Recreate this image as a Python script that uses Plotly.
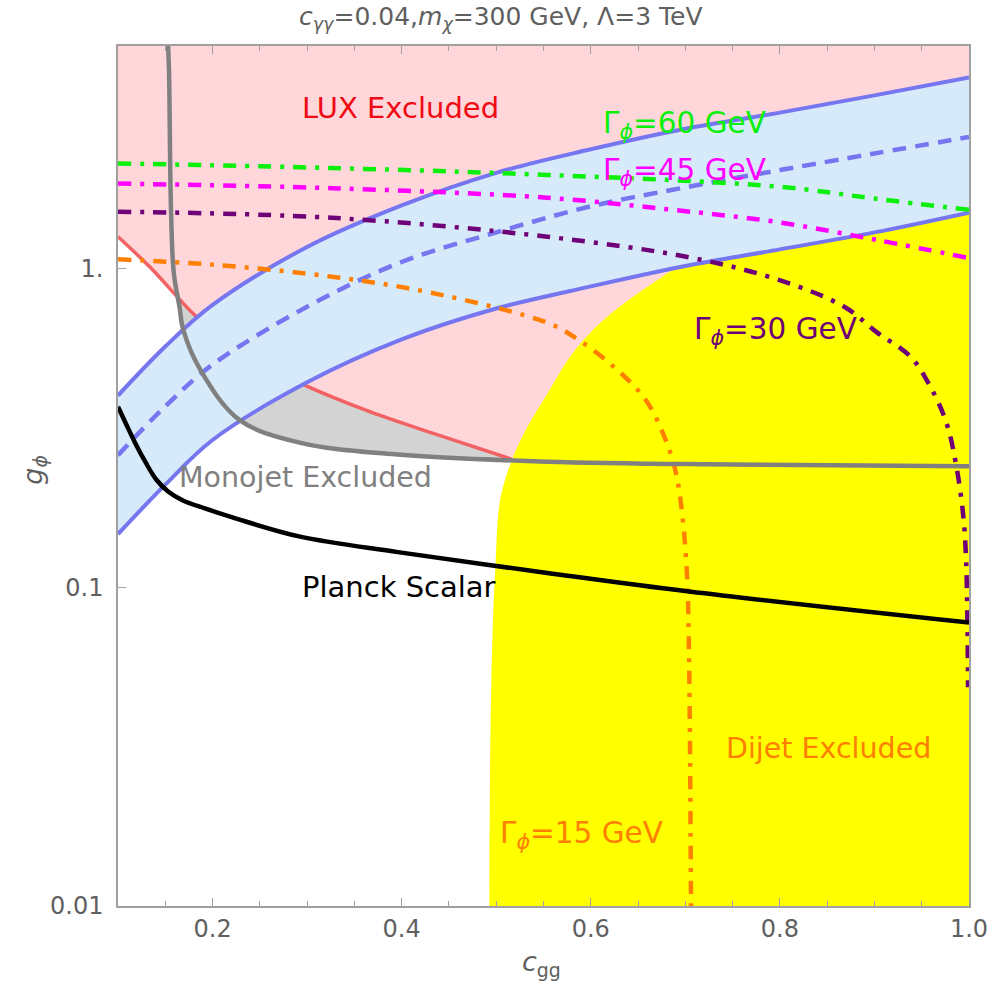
import plotly.graph_objects as go

# ---------------------------------------------------------------- data
# axis extent
X_RANGE = [0.1, 1.0]
Y_RANGE = [0.01, 5.0]

# diphoton-excess band (solid edges) and its central value (dashed)
band_x = [0.1, 0.15, 0.2, 0.3, 0.4, 0.5, 0.6, 0.7, 0.8, 0.9, 1.0]
band_upper = [0.40, 0.57, 0.77, 1.17, 1.58, 2.00, 2.37, 2.75, 3.09, 3.50, 3.98]
band_lower = [0.147, 0.21, 0.29, 0.44, 0.60, 0.75, 0.88, 1.02, 1.15, 1.30, 1.50]
band_center = [0.26, 0.37, 0.50, 0.76, 1.05, 1.30, 1.57, 1.80, 2.04, 2.30, 2.59]

# LUX direct-detection bound
lux_x = [0.1, 0.134, 0.178, 0.2, 0.25, 0.291, 0.362, 0.431, 0.517]
lux_y = [1.26, 1.01, 0.73, 0.64, 0.51, 0.44, 0.36, 0.306, 0.252]

# monojet bound
mono_x = [0.153, 0.154, 0.156, 0.159, 0.165, 0.169, 0.187, 0.228, 0.291, 0.396, 0.554, 0.75, 1.0]
mono_y = [5.0, 4.12, 1.56, 0.97, 0.76, 0.644, 0.482, 0.336, 0.285, 0.261, 0.248, 0.243, 0.240]

# dijet bound (left edge of the excluded area, up to the band)
dijet_x = [0.4927, 0.4937, 0.4959, 0.499, 0.5043, 0.5168, 0.5326, 0.5536, 0.5798, 0.6081, 0.6375, 0.6647, 0.6899]
dijet_y = [0.01, 0.031, 0.0687, 0.114, 0.189, 0.252, 0.3175, 0.403, 0.538, 0.668, 0.788, 0.897, 1.007]

# Planck relic-abundance line (scalar)
planck_x = [0.1, 0.1089, 0.1184, 0.1288, 0.1404, 0.153, 0.1687, 0.1918, 0.2211, 0.2914, 0.396, 0.554, 0.704, 1.0]
planck_y = [0.369, 0.324, 0.283, 0.248, 0.218, 0.200, 0.1874, 0.1769, 0.1658, 0.1445, 0.129, 0.111, 0.097, 0.0775]

# total-width contours
w60_x = [0.1, 0.326, 0.554, 0.798, 0.9, 1.0]
w60_y = [2.14, 2.07, 1.97, 1.81, 1.66, 1.53]

w45_x = [0.1, 0.326, 0.554, 0.687, 0.798, 0.903, 1.0]
w45_y = [1.85, 1.79, 1.67, 1.53, 1.40, 1.23, 1.08]

w30_x = [0.1, 0.326, 0.554, 0.708, 0.798, 0.868, 0.903, 0.938, 0.959, 0.976, 0.986, 0.994, 0.997, 0.999]
w30_y = [1.51, 1.445, 1.26, 1.08, 0.924, 0.76, 0.63, 0.53, 0.427, 0.329, 0.246, 0.167, 0.12, 0.0486]

w15_x = [0.1, 0.2, 0.326, 0.431, 0.554, 0.582, 0.624, 0.658, 0.679, 0.690, 0.697, 0.702, 0.704, 0.706]
w15_y = [1.07, 1.03, 0.944, 0.841, 0.677, 0.612, 0.493, 0.388, 0.291, 0.229, 0.167, 0.106, 0.058, 0.01]

# ---------------------------------------------------------------- style
FONT = "DejaVu Sans, Verdana, sans-serif"
BLUE = "rgb(118,118,240)"
C_PINK = "rgb(255,214,217)"
C_BAND = "rgb(214,234,250)"
C_GRAYFILL = "rgb(211,211,211)"
C_YELLOW = "rgb(255,255,0)"
C_GREEN = "rgb(10,240,10)"
C_MAGENTA = "rgb(255,0,255)"
C_PURPLE = "rgb(110,0,120)"
C_ORANGE = "rgb(255,128,0)"
DASHDOT = "13px,9px,4px,9px"
SMOOTH = 1.0

fig = go.Figure()


def add_line(x, y, color, width, dash=None):
    fig.add_trace(go.Scatter(
        x=x, y=y, mode="lines", hoverinfo="skip", showlegend=False,
        line=dict(color=color, width=width, dash=dash, shape="spline", smoothing=SMOOTH)))


def add_region(edge_x, edge_y, ref_x, ref_y, color):
    # invisible reference boundary, then the edge filled back to it
    fig.add_trace(go.Scatter(
        x=ref_x, y=ref_y, mode="lines", hoverinfo="skip", showlegend=False,
        line=dict(width=0, color=color)))
    fig.add_trace(go.Scatter(
        x=edge_x, y=edge_y, mode="lines", hoverinfo="skip", showlegend=False,
        fill="tonexty", fillcolor=color,
        line=dict(width=0, color=color, shape="spline", smoothing=SMOOTH)))


top = Y_RANGE[1]
bottom = 0.008

# monojet excluded (right of the grey curve)
add_region(mono_x, mono_y, [mono_x[0], X_RANGE[1]], [top, top], C_GRAYFILL)

# LUX excluded (above the red curve; continues beneath the dijet area)
add_region(lux_x + [0.535, X_RANGE[1]], lux_y + [0.247, 0.247],
           [X_RANGE[0], X_RANGE[1]], [top, top], C_PINK)
add_line(lux_x, lux_y, "rgb(242,98,98)", 3.5)

# dijet excluded; its top runs on into the band, which is painted over it
inside = [(x, c) for x, c in zip(band_x, band_center) if x > dijet_x[-1] + 0.05]
add_region(dijet_x + [p[0] for p in inside], dijet_y + [p[1] * 0.8 for p in inside],
           [dijet_x[0], X_RANGE[1]], [bottom, bottom], C_YELLOW)

# diphoton band
add_region(band_x, band_upper, band_x, band_lower, C_BAND)
add_line(band_x, band_upper, BLUE, 4)
add_line(band_x, band_lower, BLUE, 4)
add_line(band_x, band_center, BLUE, 4.5, dash="14px,9px")

# width contours
add_line(w60_x, w60_y, C_GREEN, 4.5, dash=DASHDOT)
add_line(w45_x, w45_y, C_MAGENTA, 4.5, dash=DASHDOT)
add_line(w30_x, w30_y, C_PURPLE, 4.5, dash=DASHDOT)
add_line(w15_x, w15_y, C_ORANGE, 4.5, dash=DASHDOT)

# bounds drawn on top
add_line(mono_x, mono_y, "rgb(128,128,128)", 4.5)
add_line(planck_x, planck_y, "black", 4.5)

# ---------------------------------------------------------------- layout
W, H = 1000, 996
L, R, T, B = 118, 24, 46, 90
PW, PH = W - L - R, H - T - B


def px(xp, yp):
    return (xp - L) / PW, (H - B - yp) / PH


def label(text, xp, yp, color, size, **kw):
    xx, yy = px(xp, yp)
    fig.add_annotation(text=text, x=xx, y=yy, xref="paper", yref="paper",
                       showarrow=False, xanchor="center", yanchor="middle",
                       font=dict(family=FONT, size=size, color=color), **kw)


PHI = "<i>ϕ</i>"
label("LUX Excluded", 403, 108, "rgb(240,10,20)", 29)
label(f"Γ<sub>{PHI}</sub>=60 GeV", 689, 125, C_GREEN, 29.5)
label(f"Γ<sub>{PHI}</sub>=45 GeV", 689, 172, C_MAGENTA, 29.5)
label(f"Γ<sub>{PHI}</sub>=30 GeV", 781, 331, C_PURPLE, 29.5)
label(f"Γ<sub>{PHI}</sub>=15 GeV", 585, 835, C_ORANGE, 29.5)
label("Dijet Excluded", 834, 748, C_ORANGE, 28.5)
label("Monojet Excluded", 307, 477, "rgb(128,128,128)", 28.5)
label("Planck Scalar", 401, 587, "black", 29)

GREY_TXT = "rgb(95,95,95)"
label("<i>c</i><sub><i>γγ</i></sub>=0.04,<i>m</i><sub><i>χ</i></sub>=300 GeV, Λ=3 TeV",
      504, 18, GREY_TXT, 25)
label("<i>c</i><sub>gg</sub>", 545, 963, GREY_TXT, 27)
label(f"<i>g</i><sub>{PHI}</sub>", 34, 470, GREY_TXT, 27, textangle=-90)

AX = "rgb(160,160,160)"
fig.update_layout(
    width=W, height=H,
    margin=dict(l=L, r=R, t=T, b=B),
    paper_bgcolor="white", plot_bgcolor="white",
    font=dict(family=FONT, color=GREY_TXT),
    xaxis=dict(
        range=X_RANGE, showgrid=False, zeroline=False,
        showline=True, linecolor=AX, linewidth=1.5, mirror="allticks",
        tickvals=[0.2, 0.4, 0.6, 0.8, 1.0],
        ticktext=["0.2", "0.4", "0.6", "0.8", "1.0"],
        ticks="inside", ticklen=8, tickcolor=AX, tickwidth=1,
        tickfont=dict(size=24, color=GREY_TXT),
        minor=dict(dtick=0.05, ticks="inside", ticklen=5, tickcolor=AX, showgrid=False),
    ),
    yaxis=dict(
        type="log", range=[-2, 0.69897], showgrid=False, zeroline=False,
        showline=True, linecolor=AX, linewidth=1.5, mirror=True,
        tickvals=[0.01, 0.1, 1], ticktext=["0.01", "0.1", "1."],
        ticks="inside", ticklen=8, tickcolor=AX, tickwidth=1,
        tickfont=dict(size=24, color=GREY_TXT),
        ticklabelstandoff=8,
    ),
)

fig.write_html("out.html")
